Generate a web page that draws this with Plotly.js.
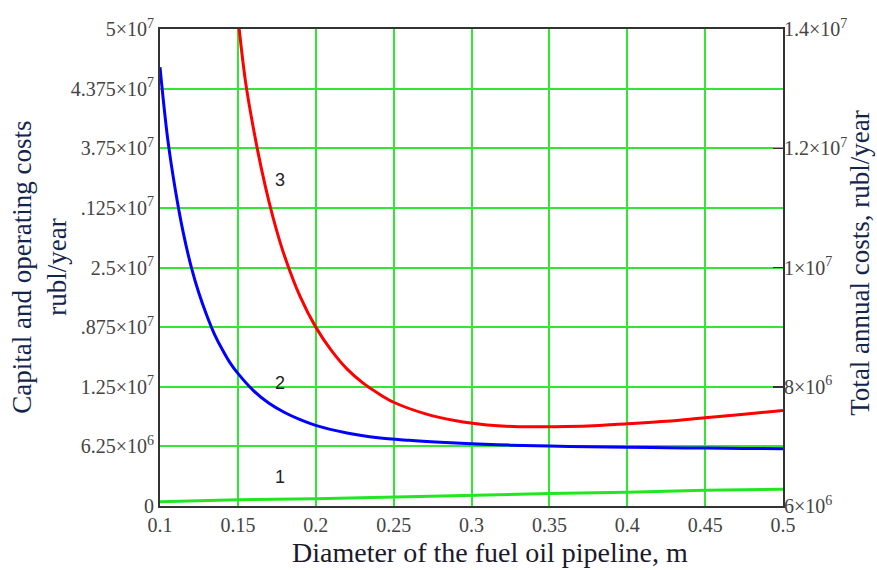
<!DOCTYPE html>
<html>
<head>
<meta charset="utf-8">
<script src="https://cdn.plot.ly/plotly-3.0.1.min.js"></script>
<style>html,body{margin:0;padding:0;background:#fff;}#chart{width:877px;height:570px;}</style>
</head>
<body>
<div id="chart"></div>
<script>
// Curve 1 (green) - left axis
const x1 = [0.1, 0.15, 0.2, 0.25, 0.3, 0.35, 0.4, 0.45, 0.5];
const y1 = [4.5e5, 6.5e5, 7.5e5, 9.5e5, 1.15e6, 1.3e6, 1.45e6, 1.65e6, 1.75e6];
// Curve 2 (blue) - left axis
const x2 = [0.1, 0.105, 0.11, 0.115, 0.12, 0.125, 0.13, 0.135, 0.14, 0.145, 0.15, 0.16, 0.17, 0.18, 0.19, 0.2, 0.22, 0.24, 0.26, 0.28, 0.3, 0.325, 0.35, 0.375, 0.4, 0.425, 0.45, 0.475, 0.5];
const y2 = [4.6e7, 3.84e7, 3.3e7, 2.86e7, 2.51e7, 2.23e7, 2.0e7, 1.8e7, 1.64e7, 1.5e7, 1.39e7, 1.21e7, 1.077e7, 9.8e6, 9.05e6, 8.45e6, 7.65e6, 7.15e6, 6.88e6, 6.68e6, 6.52e6, 6.38e6, 6.28e6, 6.21e6, 6.15e6, 6.11e6, 6.07e6, 6.03e6, 6.0e6];
// Curve 3 (red) - right axis (total annual costs)
const x3 = [0.15, 0.155, 0.16, 0.165, 0.17, 0.175, 0.18, 0.19, 0.2, 0.21, 0.22, 0.23, 0.24, 0.25, 0.27, 0.29, 0.31, 0.33, 0.35, 0.375, 0.4, 0.425, 0.45, 0.475, 0.5];
const y3 = [1.42e7, 1.31e7, 1.233e7, 1.167e7, 1.11e7, 1.061e7, 1.019e7, 9.51e6, 9.0e6, 8.61e6, 8.3e6, 8.07e6, 7.89e6, 7.74e6, 7.55e6, 7.43e6, 7.36e6, 7.33e6, 7.33e6, 7.34e6, 7.38e6, 7.42e6, 7.48e6, 7.54e6, 7.6e6];

const xTickVals = [0.1, 0.15, 0.2, 0.25, 0.3, 0.35, 0.4, 0.45, 0.5];
const xTickText = ["0.1", "0.15", "0.2", "0.25", "0.3", "0.35", "0.4", "0.45", "0.5"];
const yTickVals = [0, 6.25e6, 1.25e7, 1.875e7, 2.5e7, 3.125e7, 3.75e7, 4.375e7, 5e7];
const yTickText = ["0", "6.25×10<sup>6</sup>", "1.25×10<sup>7</sup>", ".875×10<sup>7</sup>", "2.5×10<sup>7</sup>", ".125×10<sup>7</sup>", "3.75×10<sup>7</sup>", "4.375×10<sup>7</sup>", "5×10<sup>7</sup>"];
const y2TickVals = [6e6, 8e6, 1e7, 1.2e7, 1.4e7];
const y2TickText = ["6×10<sup>6</sup>", "8×10<sup>6</sup>", "1×10<sup>7</sup>", "1.2×10<sup>7</sup>", "1.4×10<sup>7</sup>"];
const curveLabels = ["1", "2", "3"];
const labelX = [0.177, 0.177, 0.177];
const labelY = [3.0e6, 1.29e7, 3.42e7];

const serif = "Liberation Serif, Times New Roman, serif";
const gridColor = "#33e633";

const traces = [
  {x: x1, y: y1, mode: "lines", line: {color: "#22e622", width: 3}, yaxis: "y", hoverinfo: "skip"},
  {x: x2, y: y2, mode: "lines", line: {color: "#0000ff", width: 3, shape: "spline", smoothing: 1}, yaxis: "y", hoverinfo: "skip"},
  {x: x3, y: y3, mode: "lines", line: {color: "#ff0000", width: 3, shape: "spline", smoothing: 1}, yaxis: "y2", hoverinfo: "skip"}
];

const annotations = curveLabels.map((t, i) => ({
  x: labelX[i], y: labelY[i], xref: "x", yref: "y", text: t, showarrow: false,
  font: {family: "Liberation Sans, Arial, sans-serif", size: 18, color: "#222"}
}));
annotations.push({
  xref: "paper", yref: "paper", x: -0.194, y: 0.5, xanchor: "center", yanchor: "middle",
  text: "Capital and operating costs<br>rubl/year", textangle: -90, showarrow: false,
  font: {family: serif, size: 27, color: "#13254d"}
});
annotations.push({
  xref: "paper", yref: "paper", x: 1.1236, y: 0.51, xanchor: "center", yanchor: "middle",
  text: "Total annual costs, rubl/year", textangle: -90, showarrow: false,
  font: {family: serif, size: 27, color: "#13254d"}
});
annotations.push({
  xref: "paper", yref: "paper", x: 0.5297, y: -0.0975, xanchor: "center", yanchor: "middle",
  text: "Diameter of the fuel oil pipeline, m", showarrow: false, borderpad: 0,
  font: {family: serif, size: 28, color: "#1a1a2a"}
});

const layout = {
  width: 877, height: 570,
  margin: {l: 160, r: 94, t: 29, b: 64},
  paper_bgcolor: "#ffffff", plot_bgcolor: "#ffffff",
  showlegend: false,
  xaxis: {
    range: [0.1, 0.5], tickvals: xTickVals, ticktext: xTickText, ticks: "",
    showgrid: true, gridcolor: gridColor, gridwidth: 2, zeroline: false,
    showline: true, linecolor: "#333", linewidth: 2, mirror: true,
    tickfont: {family: serif, size: 20, color: "#444"}
  },
  yaxis: {
    range: [0, 5e7], tickvals: yTickVals, ticktext: yTickText, ticks: "",
    showgrid: true, gridcolor: gridColor, gridwidth: 2, zeroline: false,
    showline: true, linecolor: "#333", linewidth: 2, mirror: true,
    tickfont: {family: serif, size: 20, color: "#444"}
  },
  yaxis2: {
    range: [6e6, 1.4e7], tickvals: y2TickVals, ticktext: y2TickText,
    overlaying: "y", side: "right", showgrid: false, zeroline: false,
    ticks: "inside", ticklen: 10, tickwidth: 1.5, tickcolor: "#333",
    showline: false,
    tickfont: {family: serif, size: 20, color: "#444"}
  },
  annotations: annotations
};

Plotly.newPlot("chart", traces, layout, {staticPlot: true, displayModeBar: false});
</script>
</body>
</html>
